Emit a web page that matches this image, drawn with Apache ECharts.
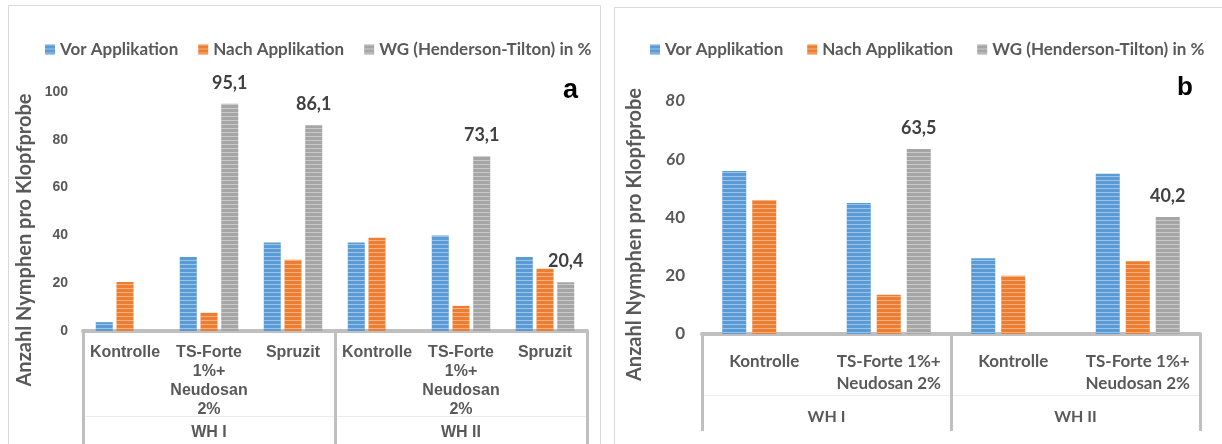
<!DOCTYPE html>
<html>
<head>
<meta charset="utf-8">
<script src="https://cdn.jsdelivr.net/npm/echarts@6/dist/echarts.min.js"></script>
<style>
html,body{margin:0;padding:0;background:#fff;}
#main{width:1222px;height:444px;}
</style>
</head>
<body>
<div id="main"></div>
<script>
// Teil a
const catsA = ['Kontrolle', 'TS-Forte\n1%+\nNeudosan\n2%', 'Spruzit', 'Kontrolle', 'TS-Forte\n1%+\nNeudosan\n2%', 'Spruzit'];
const groupsA = ['WH I', 'WH II'];
const vorA = [3.7, 31, 37, 37, 40, 31];
const nachA = [20.5, 7.6, 29.8, 39, 10.5, 26];
const wgA = [0, 95.1, 86.1, 0, 73.1, 20.4];

// Teil b
const catsB = ['Kontrolle', 'TS-Forte 1%+\nNeudosan 2%', 'Kontrolle', 'TS-Forte 1%+\nNeudosan 2%'];
const groupsB = ['WH I', 'WH II'];
const vorB = [56, 45, 26, 55];
const nachB = [46, 13.5, 20, 25];
const wgB = [0, 63.5, 0, 40.2];

const names = ['Vor Applikation', 'Nach Applikation', 'WG (Henderson-Tilton) in %'];
const colors = ['#5b9bd5', '#ed7d31', '#a5a5a5'];

const grey = '#595959';
const calibri = 'Lato';
const arial = '"Liberation Sans", Arial';

// waagerechte Streifen wie im Original
const stripe = {
  symbol: 'rect', symbolSize: 1, color: 'rgba(255,255,255,0.4)',
  dashArrayX: [1, 0], dashArrayY: [1, 3]
};

function fmt(p) {
  return p.value > 0 ? p.value.toFixed(1).replace('.', ',') : '';
}

function makeSeries(data, i, grid) {
  const s = {
    name: names[i],
    type: 'bar',
    xAxisIndex: grid * 3,
    yAxisIndex: grid,
    data: data,
    barWidth: grid === 0 ? 17 : 24,
    barGap: grid === 0 ? '22%' : '25%',
    itemStyle: { color: colors[i], decal: stripe },
    emphasis: { disabled: true }
  };
  if (i === 2) {
    s.label = {
      show: true, position: 'top', distance: 12, formatter: fmt,
      fontFamily: calibri, fontWeight: 'bold', fontSize: 18, color: '#404040'
    };
  }
  return s;
}

function catAxes(grid, cats, groups, o) {
  return [
    {
      type: 'category', gridIndex: grid, data: cats, position: 'bottom',
      axisLine: { onZero: false, lineStyle: { color: '#bfbfbf', width: 4 } },
      axisTick: { show: false },
      axisLabel: {
        interval: 0, margin: o.margin, color: grey, fontFamily: o.font,
        fontWeight: 'bold', fontSize: o.size, lineHeight: o.lh
      }
    },
    {
      type: 'category', gridIndex: grid, data: groups, position: 'bottom',
      axisLine: { show: false, onZero: false },
      axisTick: { show: true, interval: 0, length: o.tickLen, lineStyle: { color: '#bfbfbf', width: 3 } },
      axisLabel: {
        interval: 0, margin: o.groupMargin, color: grey, fontFamily: o.font,
        fontWeight: 'bold', fontSize: o.gsize
      }
    },
    {
      type: 'category', gridIndex: grid, data: groups, position: 'bottom', offset: o.sepOffset,
      axisLine: { onZero: false, lineStyle: { color: '#ececec', width: 1 } },
      axisTick: { show: false }, axisLabel: { show: false }
    }
  ];
}

const legendText = { fontFamily: calibri, fontWeight: 'bold', fontSize: 17, color: grey };
const yName = { fontFamily: calibri, fontWeight: 'bold', fontSize: 20, color: grey };

const chart = echarts.init(document.getElementById('main'));
chart.setOption({
  backgroundColor: '#fff',
  animation: false,
  title: [
    { text: 'a', left: 558, top: 72, textStyle: { fontFamily: arial, fontWeight: 'bold', fontSize: 27, color: '#000' } },
    { text: 'b', left: 1172, top: 70, textStyle: { fontFamily: arial, fontWeight: 'bold', fontSize: 26, color: '#000' } }
  ],
  legend: [
    {
      data: names, left: 40, top: 36, icon: 'rect', itemWidth: 10, itemHeight: 10, itemGap: 20,
      textStyle: legendText
    },
    {
      data: names, left: 645, top: 36, icon: 'rect', itemWidth: 10, itemHeight: 10, itemGap: 24,
      textStyle: legendText
    }
  ],
  graphic: [
    { type: 'rect', shape: { x: 8.5, y: 5.5, width: 592, height: 460 }, style: { fill: null, stroke: '#d9d9d9', lineWidth: 1 } },
    { type: 'rect', shape: { x: 614.5, y: 7.5, width: 620, height: 460 }, style: { fill: null, stroke: '#d9d9d9', lineWidth: 1 } }
  ],
  grid: [
    { left: 83, right: 635, top: 92, bottom: 113 },
    { left: 702, right: 22, top: 101, bottom: 110 }
  ],
  xAxis: [].concat(
    catAxes(0, catsA, groupsA, { margin: 12, font: arial, size: 16, lh: 19, tickLen: 114, groupMargin: 94, gsize: 16, sepOffset: 85 }),
    catAxes(1, catsB, groupsB, { margin: 17, font: calibri, size: 17, lh: 22, tickLen: 97, groupMargin: 75, gsize: 16, sepOffset: 61 })
  ),
  yAxis: [
    {
      type: 'value', gridIndex: 0, min: 0, max: 100, interval: 20,
      splitLine: { show: false }, axisLine: { show: false }, axisTick: { show: false },
      axisLabel: { margin: 15, color: grey, fontFamily: arial, fontWeight: 'bold', fontSize: 14 },
      name: 'Anzahl Nymphen pro Klopfprobe', nameLocation: 'middle', nameGap: 48, nameRotate: 90,
      nameTextStyle: Object.assign({ padding: [0, 57, 0, 0] }, yName)
    },
    {
      type: 'value', gridIndex: 1, min: 0, max: 80, interval: 20,
      splitLine: { show: false }, axisLine: { show: false }, axisTick: { show: false },
      axisLabel: {
        margin: 17,
        formatter: v => (v >= 60 ? '{it|' + v + '}' : '{n|' + v + '}'),
        rich: {
          it: { fontStyle: 'italic', color: grey, fontFamily: calibri, fontWeight: 'bold', fontSize: 17 },
          n: { color: grey, fontFamily: calibri, fontWeight: 'bold', fontSize: 17 }
        }
      },
      name: 'Anzahl Nymphen pro Klopfprobe', nameLocation: 'middle', nameGap: 57, nameRotate: 90,
      nameTextStyle: Object.assign({ padding: [0, 34, 0, 0] }, yName)
    }
  ],
  series: [
    makeSeries(vorA, 0, 0), makeSeries(nachA, 1, 0), makeSeries(wgA, 2, 0),
    makeSeries(vorB, 0, 1), makeSeries(nachB, 1, 1), makeSeries(wgB, 2, 1)
  ]
});
</script>
</body>
</html>
